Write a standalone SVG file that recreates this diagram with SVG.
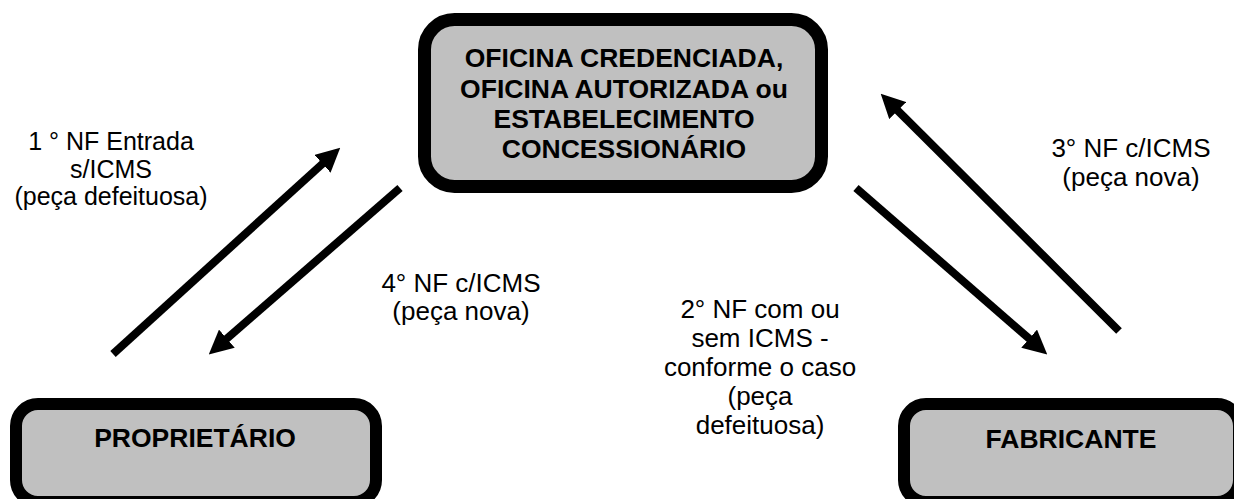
<svg xmlns="http://www.w3.org/2000/svg" width="1234" height="499" viewBox="0 0 1234 499">
<style>
.box{fill:#c0c0c0;stroke:#000;stroke-width:13}
.bt{font-family:"Liberation Sans",Arial,sans-serif;font-weight:bold;font-size:26.5px;fill:#000;text-anchor:middle}
.lb{font-family:"Liberation Sans",Arial,sans-serif;font-size:26px;fill:#000;text-anchor:middle}
.ar{stroke:#000;stroke-width:8;fill:none}
</style>
<defs>
<marker id="ah" markerUnits="userSpaceOnUse" markerWidth="24" markerHeight="24" viewBox="0 0 24 24" refX="1" refY="12" orient="auto">
<path d="M0,0 L24,12 L0,24 Z" fill="#000"/>
</marker>
</defs>
<rect width="1234" height="499" fill="#fff"/>
<g id="oficina">
<rect class="box" x="424.5" y="19.5" width="397" height="167" rx="30"/>
<text class="bt" x="624" y="67">OFICINA CREDENCIADA,</text>
<text class="bt" x="624" y="97.5">OFICINA AUTORIZADA ou</text>
<text class="bt" x="624" y="128">ESTABELECIMENTO</text>
<text class="bt" x="624" y="158">CONCESSIONÁRIO</text>
</g>
<g id="proprietario">
<rect class="box" x="16" y="404" width="360" height="98" rx="22" style="stroke-width:12"/>
<text class="bt" x="195" y="447">PROPRIETÁRIO</text>
</g>
<g id="fabricante">
<rect class="box" x="904" y="404" width="335" height="98" rx="22" style="stroke-width:12"/>
<text class="bt" x="1071" y="448">FABRICANTE</text>
</g>
<g id="connectors">
<line class="ar" x1="113" y1="354" x2="323.2" y2="163.1" marker-end="url(#ah)"/>
<line class="ar" x1="400" y1="188" x2="226.1" y2="339.3" marker-end="url(#ah)"/>
<line class="ar" x1="856" y1="188" x2="1029.9" y2="339.3" marker-end="url(#ah)"/>
<line class="ar" x1="1119" y1="331" x2="897" y2="109.9" marker-end="url(#ah)"/>
</g>
<g id="labels">
<text class="lb" x="111" y="150" style="font-size:25px">1 ° NF Entrada</text>
<text class="lb" x="111" y="177.5" style="font-size:25px">s/ICMS</text>
<text class="lb" x="111" y="205" style="font-size:25px">(peça defeituosa)</text>
<text class="lb" x="461" y="292">4° NF c/ICMS</text>
<text class="lb" x="461" y="320">(peça nova)</text>
<text class="lb" x="760" y="318">2° NF com ou</text>
<text class="lb" x="760" y="347">sem ICMS -</text>
<text class="lb" x="760" y="376">conforme o caso</text>
<text class="lb" x="760" y="405">(peça</text>
<text class="lb" x="760" y="434">defeituosa)</text>
<text class="lb" x="1131" y="157">3° NF c/ICMS</text>
<text class="lb" x="1131" y="186">(peça nova)</text>
</g>
</svg>
